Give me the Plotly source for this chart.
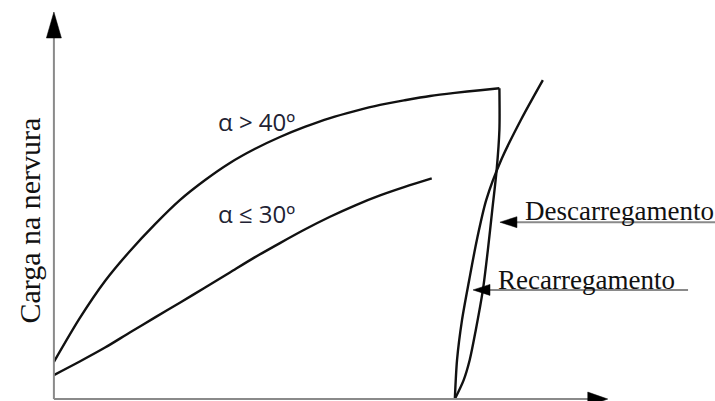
import plotly.graph_objects as go

# Load on the rib vs. slip (arbitrary units, origin at the axes corner)
upper_x = [0.0, 4.7, 9.3, 13.8, 18.4, 22.9, 27.5, 32.0, 36.5, 41.1, 45.6, 50.2, 54.7, 59.3, 63.8, 68.4, 72.9, 77.5, 81.0]
upper_y = [9.6, 20.9, 30.5, 38.2, 45.2, 51.4, 56.6, 61.0, 64.6, 67.7, 70.3, 72.6, 74.4, 76.0, 77.2, 78.3, 79.1, 79.8, 80.3]

lower_x = [0.0, 4.7, 9.3, 13.8, 18.4, 22.9, 27.5, 32.0, 36.5, 41.1, 45.6, 50.2, 54.7, 59.3, 63.8, 68.7]
lower_y = [6.2, 9.7, 13.3, 17.2, 21.1, 24.9, 28.8, 32.7, 36.6, 40.3, 43.8, 47.1, 50.0, 52.6, 54.8, 57.0]

unload_x = [81.0, 81.0, 80.5, 79.7, 78.9, 78.0, 76.7, 75.6, 74.5, 72.9]
unload_y = [80.3, 69.5, 59.2, 48.8, 38.5, 28.2, 17.8, 10.1, 4.9, 0.0]

reload_x = [72.9, 73.3, 74.2, 75.5, 76.9, 78.6, 81.3, 84.9, 88.9]
reload_y = [0.0, 10.1, 20.4, 30.7, 41.1, 51.4, 61.7, 72.1, 82.4]

curve_labels = ["α > 40º", "α ≤ 30º"]
branch_labels = ["Descarregamento", "Recarregamento"]
y_title = "Carga na nervura"

W, H = 715, 401
X_RANGE = [-9.8, 120.2]
Y_RANGE = [-0.5, 103.1]
PX_X = W / (X_RANGE[1] - X_RANGE[0])   # pixels per x unit
PX_Y = H / (Y_RANGE[1] - Y_RANGE[0])   # pixels per y unit

AXIS_GREY = "#8a8a8a"
INK = "#111111"


def arrow_head(tx, ty, direction, length_px, half_px):
    """Closed triangle path with its tip at (tx, ty)."""
    if direction == "up":
        bx, by = tx, ty - length_px / PX_Y
        dx, dy = half_px / PX_X, 0
    elif direction == "right":
        bx, by = tx - length_px / PX_X, ty
        dx, dy = 0, half_px / PX_Y
    else:  # left
        bx, by = tx + length_px / PX_X, ty
        dx, dy = 0, half_px / PX_Y
    return f"M {tx},{ty} L {bx + dx},{by + dy} L {bx - dx},{by - dy} Z"


fig = go.Figure()

line_style = dict(color=INK, width=2.4, shape="spline", smoothing=0.8)
for xs, ys in [(upper_x, upper_y), (lower_x, lower_y), (unload_x, unload_y), (reload_x, reload_y)]:
    fig.add_trace(go.Scatter(x=xs, y=ys, mode="lines", line=line_style,
                             hoverinfo="skip", showlegend=False))

shapes = []
# axes
x_tip, y_tip = 100.7, 100.0
shapes.append(dict(type="line", xref="x", yref="y", x0=0, y0=0, x1=0, y1=y_tip - 20 / PX_Y,
                   line=dict(color=AXIS_GREY, width=2)))
shapes.append(dict(type="line", xref="x", yref="y", x0=0, y0=0, x1=x_tip - 15 / PX_X, y1=0,
                   line=dict(color=AXIS_GREY, width=2)))
shapes.append(dict(type="path", xref="x", yref="y", path=arrow_head(0, y_tip, "up", 26, 7.5),
                   fillcolor="black", line=dict(color="black", width=0.5)))
shapes.append(dict(type="path", xref="x", yref="y", path=arrow_head(x_tip, 0, "right", 20, 7),
                   fillcolor="black", line=dict(color="black", width=0.5)))

# pointer lines for the unloading / reloading branches
pointers = [
    (81.1, 45.7, 120.2),
    (76.2, 28.2, 115.3),
]
for tip_x, py, end_x in pointers:
    shapes.append(dict(type="line", xref="x", yref="y", x0=tip_x + 10 / PX_X, y0=py, x1=end_x, y1=py,
                       line=dict(color=AXIS_GREY, width=2)))
    shapes.append(dict(type="path", xref="x", yref="y", path=arrow_head(tip_x, py, "left", 17, 5.5),
                       fillcolor="black", line=dict(color="black", width=0.5)))

annotations = [
    dict(x=-4.6, y=46.0, xref="x", yref="y", text=y_title, textangle=-90, showarrow=False,
         font=dict(family="Liberation Serif", size=30, color=INK)),
    dict(x=36.9, y=71.6, xref="x", yref="y", text=curve_labels[0], showarrow=False,
         font=dict(family="Open Sans", size=24, color="#222233")),
    dict(x=36.9, y=48.0, xref="x", yref="y", text=curve_labels[1], showarrow=False,
         font=dict(family="Open Sans", size=24, color="#222233")),
    dict(x=85.2, y=48.6, xref="x", yref="y", text=branch_labels[0], showarrow=False, xanchor="left",
         font=dict(family="Liberation Serif", size=27, color=INK)),
    dict(x=80.4, y=30.7, xref="x", yref="y", text=branch_labels[1], showarrow=False, xanchor="left",
         font=dict(family="Liberation Serif", size=27, color=INK)),
]

fig.update_layout(
    width=W, height=H,
    margin=dict(l=0, r=0, t=0, b=0),
    paper_bgcolor="white", plot_bgcolor="white",
    xaxis=dict(range=X_RANGE, visible=False, fixedrange=True),
    yaxis=dict(range=Y_RANGE, visible=False, fixedrange=True),
    shapes=shapes,
    annotations=annotations,
)

fig.write_html("out.html")
